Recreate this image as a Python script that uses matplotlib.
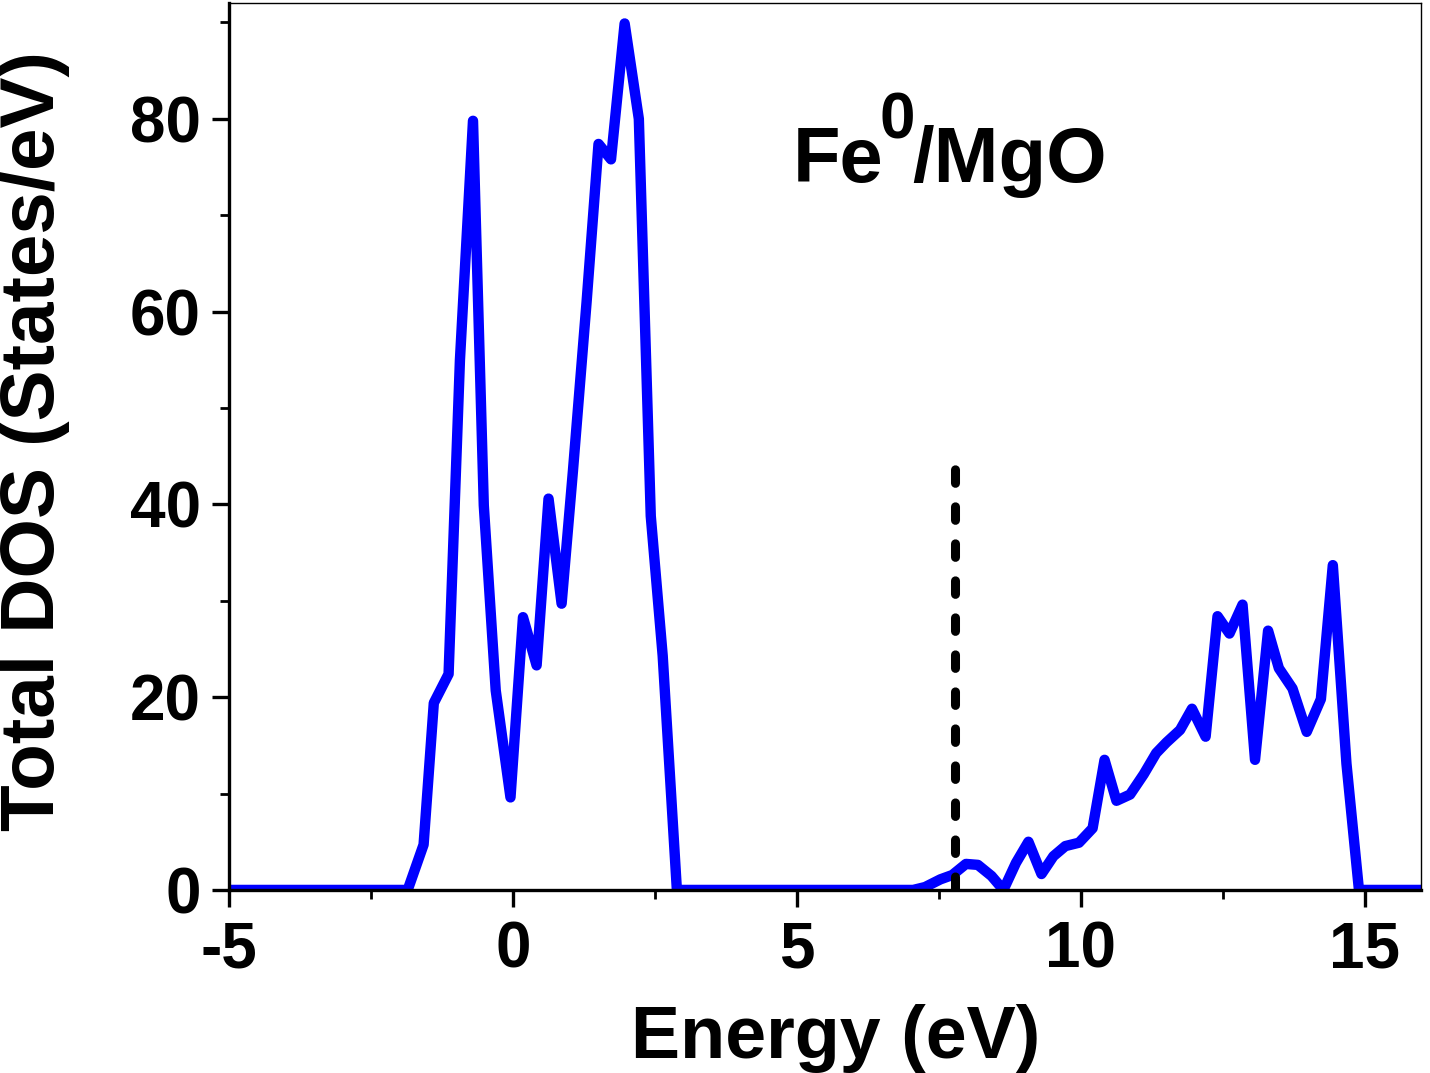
import matplotlib
matplotlib.use("Agg")
import matplotlib.pyplot as plt
from matplotlib.ticker import MultipleLocator

plt.rcParams['font.family'] = ['Liberation Sans', 'DejaVu Sans']
plt.rcParams['font.weight'] = 'bold'
plt.rcParams['axes.unicode_minus'] = False

# total DOS
energy = [-5.0, -1.85, -1.57, -1.39, -1.13, -0.93, -0.70, -0.51, -0.30, -0.04,
          0.18, 0.42, 0.63, 0.86, 1.06, 1.30, 1.51, 1.73, 1.97, 2.22,
          2.43, 2.64, 2.89, 7.05, 7.26, 7.53, 7.74, 7.98, 8.19, 8.43,
          8.64, 8.86, 9.08, 9.31, 9.52, 9.73, 9.97, 10.21, 10.42, 10.63,
          10.87, 11.11, 11.33, 11.51, 11.75, 11.96, 12.20, 12.41, 12.62, 12.85,
          13.07, 13.30, 13.49, 13.73, 13.98, 14.23, 14.44, 14.68, 14.90, 16.0]
dos = [0.0, 0.0, 4.7, 19.4, 22.4, 55.0, 79.8, 39.9, 20.7, 9.6,
       28.3, 23.3, 40.6, 29.7, 43.5, 61.0, 77.4, 75.8, 89.9, 80.0,
       38.8, 24.3, 0.0, 0.0, 0.3, 1.1, 1.55, 2.7, 2.6, 1.45,
       0.0, 2.8, 5.0, 1.65, 3.5, 4.55, 4.9, 6.4, 13.5, 9.25,
       9.9, 12.0, 14.2, 15.3, 16.6, 18.8, 15.9, 28.4, 26.6, 29.6,
       13.5, 26.9, 23.0, 20.9, 16.4, 19.8, 33.7, 13.1, 0.0, 0.0]

fermi = 7.78
fermi_top = 44.5

fig = plt.figure(figsize=(14.30, 10.73), dpi=100)
ax = fig.add_axes([0.160, 0.1706, 0.834, 0.8264])

ax.plot(energy, dos, color='#0000ff', lw=7.5, solid_joinstyle='round', solid_capstyle='round')
ax.plot([fermi, fermi], [0, fermi_top], color='black', lw=6.5, ls=(0, (1.5, 2.6)),
        dash_capstyle='round')

ax.set_xlim(-5, 16)
ax.set_ylim(0, 92)
ax.xaxis.set_major_locator(MultipleLocator(5))
ax.xaxis.set_minor_locator(MultipleLocator(2.5))
ax.yaxis.set_major_locator(MultipleLocator(20))
ax.yaxis.set_minor_locator(MultipleLocator(10))

ax.tick_params(which='major', direction='out', length=12, width=2.4, labelsize=46)
ax.tick_params(axis='x', which='major', pad=10)
ax.tick_params(axis='y', which='major', pad=8)
ax.tick_params(which='minor', direction='out', length=6.5, width=2.0)
ax.tick_params(top=False, right=False)
for lab in ax.get_xticklabels() + ax.get_yticklabels():
    lab.set_fontweight('bold')

ax.spines['left'].set_linewidth(2.4)
ax.spines['bottom'].set_linewidth(2.4)
ax.spines['top'].set_linewidth(1.0)
ax.spines['right'].set_linewidth(1.0)

ax.set_xlabel('Energy (eV)', fontsize=53, fontweight='bold', va='baseline')
ax.xaxis.set_label_coords(0.509, -0.19)
ax.set_ylabel('Total DOS (States/eV)', fontsize=55, fontweight='bold', va='center')
ax.yaxis.set_label_coords(-0.163, 0.506)

# Fe^0/MgO label, superscript set by hand (sits higher than mathtext would put it)
ax.text(0.4728, 0.798, 'Fe', transform=ax.transAxes, fontsize=56,
        fontweight='bold', ha='left', va='baseline')
ax.text(0.5457, 0.8478, '0', transform=ax.transAxes, fontsize=46,
        fontweight='bold', ha='left', va='baseline')
ax.text(0.5733, 0.798, '/MgO', transform=ax.transAxes, fontsize=56,
        fontweight='bold', ha='left', va='baseline')

fig.savefig('out.png', dpi=100)
